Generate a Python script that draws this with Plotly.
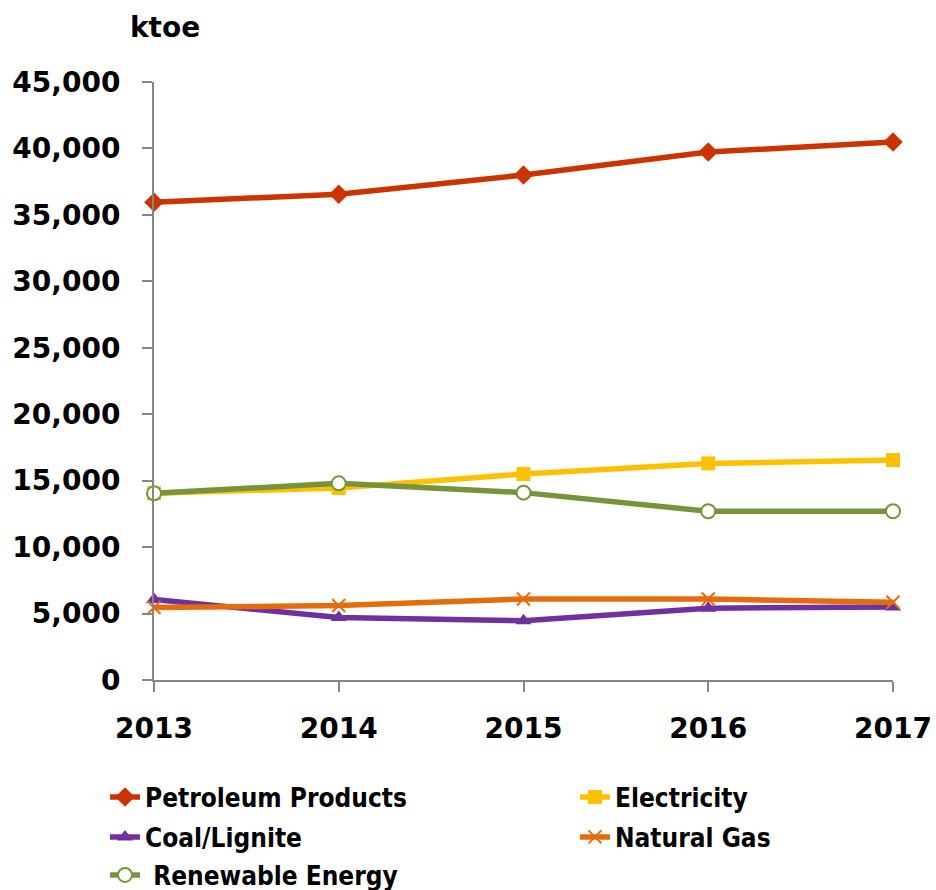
import plotly.graph_objects as go

years = [2013, 2014, 2015, 2016, 2017]
year_labels = ["2013", "2014", "2015", "2016", "2017"]
petroleum = [35950, 36550, 38000, 39730, 40480]
electricity = [14050, 14450, 15500, 16300, 16550]
coal = [6050, 4700, 4450, 5400, 5500]
natural_gas = [5450, 5600, 6100, 6100, 5850]
renewable = [14050, 14800, 14100, 12700, 12700]

series_names = ["Petroleum Products", "Electricity", "Coal/Lignite", "Natural Gas", " Renewable Energy"]
y_ticks = [0, 5000, 10000, 15000, 20000, 25000, 30000, 35000, 40000, 45000]

W, H = 936, 890
fig = go.Figure()

styles = [
    dict(color="#CC3300", symbol="diamond", size=15, line=dict(width=0)),
    dict(color="#FFC000", symbol="square", size=14, line=dict(width=0)),
    dict(color="#7030A0", symbol="triangle-up", size=14, line=dict(width=0)),
    dict(color="#E46C0A", symbol="x-thin", size=13, line=dict(width=2, color="#E46C0A")),
    dict(color="#FFFFFF", symbol="circle", size=14, line=dict(width=2, color="#77933C")),
]
line_colors = ["#CC3300", "#FFC000", "#7030A0", "#E46C0A", "#77933C"]
data = [petroleum, electricity, coal, natural_gas, renewable]
legend_ids = ["legend", "legend2", "legend3", "legend4", "legend5"]

for name, vals, st, lc, lg in zip(series_names, data, styles, line_colors, legend_ids):
    fig.add_trace(go.Scatter(
        x=years, y=vals, name=name, mode="lines+markers",
        line=dict(color=lc, width=5.5),
        marker=st, cliponaxis=False, legend=lg,
    ))

legend_font = dict(family="DejaVu Sans Condensed", size=26, color="#000000", weight="bold")
# positions (container px): left x, center y
legend_pos = [(105, 797), (575, 797), (105, 837), (575, 837), (105, 875)]
legend_layout = {}
for lg, (lx, ly) in zip(legend_ids, legend_pos):
    legend_layout[lg] = dict(
        xref="container", yref="container",
        x=lx / W, y=1 - ly / H, xanchor="left", yanchor="middle",
        font=legend_font, bgcolor="rgba(0,0,0,0)", borderwidth=0,
    )

fig.update_layout(
    width=W, height=H,
    margin=dict(l=154, r=43, t=82, b=210, autoexpand=False),
    plot_bgcolor="white", paper_bgcolor="white",
    showlegend=True,
    **legend_layout,
    xaxis=dict(
        range=[2013, 2017], tickvals=years, ticktext=year_labels,
        showgrid=False, zeroline=False, showline=True, linecolor="#868686", linewidth=2,
        ticks="outside", ticklen=10, tickwidth=2, tickcolor="#868686",
        tickfont=dict(family="DejaVu Sans", size=28, color="#000000", weight="bold"),
        ticklabelstandoff=12, tickangle=0, automargin=False,
    ),
    yaxis=dict(
        range=[0, 45000], tickvals=y_ticks, tickformat=",",
        showgrid=False, zeroline=False, showline=True, linecolor="#868686", linewidth=2,
        ticks="outside", ticklen=10, tickwidth=2, tickcolor="#868686",
        tickfont=dict(family="DejaVu Sans", size=28, color="#000000", weight="bold"),
        ticklabelstandoff=16, automargin=False,
    ),
    annotations=[dict(
        text="ktoe", xref="paper", yref="paper", x=-0.00, y=1, xshift=165 - 154,
        yshift=82 - 27, xanchor="center", yanchor="middle", showarrow=False,
        font=dict(family="DejaVu Sans", size=28, color="#000000", weight="bold"),
    )],
)

fig.write_html("out.html")
